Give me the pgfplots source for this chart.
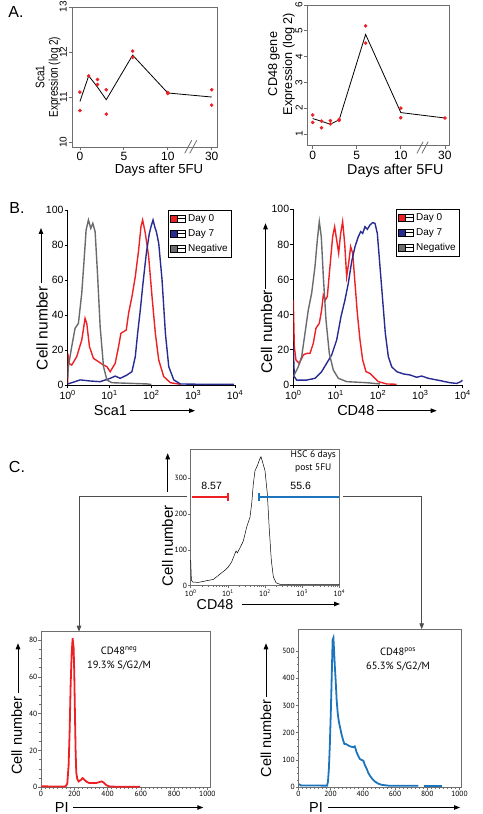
\documentclass[border=0pt]{standalone}
\usepackage{pgfplots}
\pgfplotsset{compat=1.18}
\usepackage{fontspec}
\setmainfont{Liberation Sans}
\newfontfamily\ptsans{PT Sans}
\usetikzlibrary{arrows.meta}
\usepackage{graphicx}

\definecolor{dred}{RGB}{237,32,36}
\definecolor{dblue}{RGB}{40,44,146}
\definecolor{dgray}{RGB}{105,107,110}
\definecolor{cblue}{RGB}{28,117,188}
\definecolor{frame}{RGB}{110,110,110}

\tikzset{arr/.style={-{Triangle[length=6pt,width=4.5pt]}, line width=0.9pt}}
\pgfplotsset{
 panelA/.style={scale only axis, anchor=south west, clip=false, tick align=outside, tick pos=left,
   major tick length=3.5pt, axis line style={draw=frame, line width=0.8pt},
   tick style={draw=frame, line width=0.7pt},
   xticklabel style={font=\fontsize{12}{12}\selectfont, inner sep=1.5pt},
   yticklabel style={font=\fontsize{10}{10}\selectfont, rotate=90, anchor=south, inner sep=1.5pt}},
 panelB/.style={scale only axis, anchor=south west, axis lines*=left, tick align=outside,
   major tick length=3pt, axis line style={line width=0.9pt}, tick style={black, line width=0.8pt},
   ticklabel style={font=\fontsize{10.5}{11}\selectfont, inner sep=1pt},
   xticklabel style={yshift=-1.5pt},
   xmin=0, xmax=4, ymin=0, ymax=100, xtick={0,1,2,3,4},
   xticklabels={10\textsuperscript{0},10\textsuperscript{1},10\textsuperscript{2},10\textsuperscript{3},10\textsuperscript{4}},
   ytick={0,20,40,60,80,100}, yticklabels={0,20,40,60,80,100},
   legend cell align=left,
   legend style={draw=black, line width=0.7pt, font=\fontsize{10}{12}\selectfont, inner sep=2pt, row sep=2.5pt, anchor=north east},
   legend image code/.code={
     \draw[#1, fill, draw=black, line width=0.5pt] (0pt,-3.5pt) rectangle (7pt,3.5pt);
     \draw[black, fill=white, line width=0.9pt] (7pt,-3.5pt) rectangle (15pt,3.5pt);
     \draw[black, line width=0.9pt] (7pt,0pt) -- (15pt,0pt);}},
 panelC/.style={scale only axis, anchor=south west, tick align=outside, tick pos=left,
   major tick length=2.5pt, minor tick length=1.5pt, axis line style={draw=frame, line width=0.6pt},
   tick style={draw=frame, line width=0.5pt},
   ticklabel style={font=\ptsans\fontsize{7.5}{8}\selectfont, inner sep=1pt}},
}

\begin{document}
\begin{tikzpicture}
\useasboundingbox (0,0) rectangle (482pt,814pt);

% ================= A left
\begin{axis}[panelA, at={(72pt,667pt)}, width=145pt, height=140pt,
  xmin=-0.9, xmax=15.6, ymin=9.89, ymax=13.0,
  xtick={0,5,10,15}, xticklabels={0,5,10,30},
  ytick={10,11,12,13}, yticklabels={10,11,12,13}]
\addplot[black, line width=0.8pt] coordinates {(0,10.9)(1,11.47)(2,11.22)(3,10.94)(6,11.93)(10,11.09)(15,11.0)};
\addplot[only marks, mark=*, mark size=1.6pt, dred] coordinates {(0,11.11)(0,10.70)(1,11.47)(2,11.39)(2,11.28)(3,11.16)(3,10.62)(6,12.02)(6,11.88)(10,11.1)(10,11.08)(15,11.16)(15,10.82)};
\draw[frame, line width=0.8pt] (axis cs:11.93,9.75) -- (axis cs:12.73,10.04);
\draw[frame, line width=0.8pt] (axis cs:12.5,9.75) -- (axis cs:13.3,10.04);
\end{axis}

% ================= A right
\begin{axis}[panelA, at={(307.7pt,668.3pt)}, width=141.6pt, height=140.7pt,
  xmin=-0.57, xmax=15.5, ymin=0.547, ymax=6.0,
  xtick={0,5,10,15}, xticklabels={0,5,10,30},
  ytick={1,2,3,4,5,6}, yticklabels={1,2,3,4,5,6}]
\addplot[black, line width=0.8pt] coordinates {(0,1.6)(1,1.49)(2,1.38)(3,1.55)(6,4.86)(10,1.83)(15,1.62)};
\addplot[only marks, mark=*, mark size=1.6pt, dred] coordinates {(0,1.74)(0,1.45)(1,1.50)(1,1.24)(2,1.52)(2,1.39)(3,1.57)(3,1.53)(6,5.19)(6,4.52)(10,2.0)(10,1.63)(15,1.62)};
\draw[frame, line width=0.8pt] (axis cs:11.82,0.25) -- (axis cs:12.53,0.70);
\draw[frame, line width=0.8pt] (axis cs:12.39,0.25) -- (axis cs:13.1,0.70);
\end{axis}

\node[font=\fontsize{16}{18}\selectfont] at (16pt,802pt) {A.};
\node[rotate=90] at (48.5pt,737pt) {\scalebox{0.8}[1]{\fontsize{12.5}{13.5}\selectfont\begin{tabular}{@{}c@{}}Sca1\\Expression (log 2)\end{tabular}}};
\node[rotate=90, align=center, font=\fontsize{12.7}{15}\selectfont] at (281.5pt,750pt) {CD48 gene\\Expression (log 2)};
\node[font=\fontsize{13.1}{15}\selectfont] at (159pt,644pt) {Days after 5FU};
\node[font=\fontsize{14.3}{16}\selectfont] at (395.3pt,643.3pt) {Days after 5FU};

% ================= B left
\begin{axis}[panelB, at={(67.7pt,429pt)}, width=167.3pt, height=175pt,
  legend style={at={(0.982,1.0)}}]
\addplot[dred, line width=1.4pt] coordinates {(0,0.5)(0.005,18.1)(0.024,12.4)(0.096,11.4)(0.216,16.2)(0.336,25.7)(0.416,38.1)(0.456,35.2)(0.52,21.9)(0.616,15.2)(0.736,13.3)(0.856,11.4)(0.936,10.5)(1.016,7.6)(1.136,12.4)(1.216,21.9)(1.272,29.5)(1.336,30.5)(1.4,31.4)(1.456,41)(1.536,50.5)(1.616,61.9)(1.696,77.1)(1.752,90.5)(1.792,94.3)(1.856,86.7)(1.936,73.3)(2.016,50.5)(2.096,29.5)(2.176,14.3)(2.296,4.8)(2.456,1.3)(2.696,0.4)};
\addlegendentry{Day 0}
\addplot[dblue, line width=1.4pt] coordinates {(0,0.6)(0.096,1.3)(0.296,2.9)(0.536,2.3)(0.776,1.9)(1.016,3.8)(1.136,5.1)(1.256,3.8)(1.416,5.7)(1.536,7.6)(1.616,16.2)(1.672,29.5)(1.736,42.9)(1.8,58.1)(1.88,75.2)(1.952,86.7)(1.992,90.5)(2.04,94.3)(2.08,90.5)(2.12,87.6)(2.176,81)(2.256,60)(2.336,29.5)(2.416,10.5)(2.536,2.9)(2.696,0.6)(3.176,0.4)(3.976,0.4)};
\addlegendentry{Day 7}
\addplot[dgray, line width=1.4pt] coordinates {(0,4)(0.016,10.5)(0.096,21.9)(0.176,32.4)(0.256,35.2)(0.336,52.4)(0.392,71.4)(0.44,88.6)(0.496,94.3)(0.552,89.5)(0.6,92.4)(0.656,87.6)(0.712,63.8)(0.776,33.3)(0.856,10.5)(0.936,2.9)(1.056,1.3)(1.416,1.0)(1.896,0.6)(2.0,0.3)};
\addlegendentry{Negative}
\end{axis}

% ================= B right
\begin{axis}[panelB, at={(293.3pt,429pt)}, width=169.4pt, height=175.7pt,
  legend style={at={(0.984,1.0)}}]
\addplot[dred, line width=1.4pt] coordinates {(0,48.4)(0.024,21.8)(0.063,14.2)(0.142,12.3)(0.236,17.1)(0.315,18)(0.394,18)(0.472,23.7)(0.535,32.3)(0.614,35.1)(0.669,42.7)(0.709,51.2)(0.756,48.4)(0.803,50.3)(0.866,67.4)(0.929,84.4)(0.976,90.1)(1.024,82.5)(1.071,75)(1.118,86.3)(1.165,93)(1.213,80.6)(1.26,61.7)(1.307,69.3)(1.354,78.7)(1.402,75)(1.457,57.9)(1.512,40.8)(1.575,25.6)(1.638,14.2)(1.717,7.6)(1.811,6.6)(1.89,4.7)(2.008,1.9)(2.205,0.6)(2.441,0.4)};
\addlegendentry{Day 0}
\addplot[dblue, line width=1.4pt] coordinates {(0,21.8)(0.024,4.7)(0.079,2.8)(0.315,2.8)(0.512,3.8)(0.669,7.6)(0.787,12.3)(0.906,17.1)(1.024,25.6)(1.126,38.9)(1.22,48.4)(1.299,57.9)(1.378,70.2)(1.457,78.7)(1.535,84.4)(1.591,87.3)(1.638,86.3)(1.693,90.1)(1.748,88.6)(1.811,91.1)(1.874,92.4)(1.929,92)(1.984,86.3)(2.047,67.4)(2.11,48.4)(2.173,29.4)(2.244,16.1)(2.323,10.4)(2.441,7.6)(2.598,6.3)(2.756,5.7)(2.913,4.4)(3.031,5.1)(3.189,3.8)(3.465,2.5)(3.701,1.3)(3.858,0.9)(3.953,1.9)(4.0,2.8)};
\addlegendentry{Day 7}
\addplot[dgray, line width=1.4pt] coordinates {(0,4.7)(0.118,10.4)(0.197,16.1)(0.276,29.4)(0.354,42.7)(0.433,52.2)(0.512,67.4)(0.567,82.5)(0.614,93)(0.661,84.4)(0.709,61.7)(0.772,37)(0.85,18)(0.945,8.5)(1.063,3.8)(1.26,1.9)(1.732,1.3)(2.047,0.6)};
\addlegendentry{Negative}
\end{axis}

\node[font=\fontsize{16}{18}\selectfont] at (17pt,606pt) {B.};
\node[rotate=90, font=\fontsize{15.5}{16}\selectfont] at (42pt,485.7pt) {Cell number};
\draw[arr] (41pt,531pt) -- (41pt,586pt);
\node[rotate=90, font=\fontsize{15.5}{16}\selectfont] at (266.7pt,482.3pt) {Cell number};
\draw[arr] (265.5pt,525pt) -- (265.5pt,590.7pt);
\node[font=\fontsize{14.5}{16}\selectfont] at (110.5pt,403pt) {Sca1};
\draw[arr] (130pt,403.3pt) -- (195pt,403.3pt);
\node[font=\fontsize{14.5}{16}\selectfont] at (355.8pt,403pt) {CD48};
\draw[arr] (377pt,403.3pt) -- (436.7pt,403.3pt);

% ================= C top
\begin{axis}[panelC, at={(190.7pt,228.3pt)}, width=148.6pt, height=136.4pt, clip=false,
  xmin=0, xmax=4, ymin=0, ymax=380,
  xtick={0,1,2,3,4},
  xticklabels={10\textsuperscript{0},10\textsuperscript{1},10\textsuperscript{2},10\textsuperscript{3},10\textsuperscript{4}},
  minor xtick={0.301,0.477,0.602,0.699,0.778,0.845,0.903,0.954,1.301,1.477,1.602,1.699,1.778,1.845,1.903,1.954,2.301,2.477,2.602,2.699,2.778,2.845,2.903,2.954,3.301,3.477,3.602,3.699,3.778,3.845,3.903,3.954},
  ytick={0,100,200,300}, yticklabels={0,100,200,300}]
\addplot[black, line width=0.5pt] coordinates {(0,71)(0.018,15.7)(0.054,10.2)(0.206,9.2)(0.43,13.9)(0.61,17.5)(0.7,24.9)(0.789,32.3)(0.924,43.4)(1.013,52.6)(1.103,66.5)(1.175,85)(1.22,97)(1.256,91.4)(1.327,105.3)(1.417,124.7)(1.507,163.4)(1.596,191.1)(1.641,228)(1.686,283.5)(1.731,320.4)(1.794,334.3)(1.848,350)(1.892,359.2)(1.937,343.5)(2.0,320.4)(2.063,255.8)(2.117,154.2)(2.17,71.1)(2.224,24.9)(2.296,8.3)(2.404,3.7)(2.942,2.8)(4.0,2.8)};
\addplot[dred, line width=2.2pt] coordinates {(0.04,248)(1.0,248)};
\addplot[dred, line width=2.2pt] coordinates {(1.0,237)(1.0,259)};
\addplot[cblue, line width=2.2pt] coordinates {(1.83,248)(4.0,248)};
\addplot[cblue, line width=2.2pt] coordinates {(1.83,237)(1.83,259)};
\node[font=\fontsize{10.5}{12}\selectfont] at (axis cs:0.565,277) {8.57};
\node[font=\fontsize{10.5}{12}\selectfont] at (axis cs:2.96,277) {55.6};
\end{axis}

\node[font=\fontsize{16}{18}\selectfont] at (17pt,347.3pt) {C.};
\node[align=center, font=\ptsans\fontsize{9.5}{13}\selectfont] at (313.3pt,352pt) {HSC 6 days\\post 5FU};
\node[rotate=90, font=\fontsize{15}{16}\selectfont] at (167.5pt,268.2pt) {Cell number};
\draw[arr] (167.7pt,322.3pt) -- (167.7pt,360.7pt);
\node[font=\fontsize{14.3}{16}\selectfont] at (215pt,209pt) {CD48};
\draw[arr] (241.7pt,210pt) -- (340pt,210pt);
\draw[frame!70!black, line width=0.9pt, -{Triangle[length=6pt,width=4.5pt]}] (186.7pt,317.3pt) -- (79pt,317.3pt) -- (79pt,182.3pt);
\draw[frame!70!black, line width=0.9pt, -{Triangle[length=6pt,width=4.5pt]}] (343.3pt,317.3pt) -- (421.7pt,317.3pt) -- (421.7pt,184.7pt);

% ================= C bottom left
\begin{axis}[panelC, at={(41pt,26.7pt)}, width=169.7pt, height=155.6pt,
  xmin=0, xmax=1020, ymin=0, ymax=84.6,
  xtick={0,200,400,600,800,1000}, xticklabels={0,200,400,600,800,1000}, minor x tick num=7,
  ytick={0,20,40,60,80}, yticklabels={0,20,40,60,80}, minor y tick num=3]
\addplot[dred, line width=1.8pt] coordinates {(0,0.6)(74,0.4)(148,0.5)(158,2)(166,12)(172,30)(178,55)(184,72)(190,81)(196,76)(200,62)(204,40)(208,20)(212,8)(218,4.5)(226,3.2)(240,4)(250,5)(262,4)(274,3)(290,2.3)(330,2.3)(350,2.8)(365,3.2)(378,2.5)(392,1.2)(410,0.5)(450,0.3)(594,0.3)};
\end{axis}

% ================= C bottom right
\begin{axis}[panelC, at={(298.3pt,26.7pt)}, width=163.4pt, height=158pt,
  xmin=0, xmax=1014, ymin=0, ymax=579,
  xtick={0,200,400,600,800,1000}, xticklabels={0,200,400,600,800,1000}, minor x tick num=7,
  ytick={0,100,200,300,400,500}, yticklabels={0,100,200,300,400,500}, minor y tick num=3]
\addplot[cblue, line width=1.8pt] coordinates {(4,12)(15,7)(178,6)(184,20)(190,70)(196,160)(202,280)(208,420)(213,540)(218,548)(222,500)(227,440)(232,391)(238,320)(245,269)(252,240)(259,220)(268,195)(277,175)(286,159)(298,158)(311,153)(322,150)(333,148)(342,147)(350,150)(356,140)(362,128)(372,115)(383,103)(394,100)(404,97)(414,80)(425,67)(435,52)(445,42)(460,30)(476,21)(497,13)(518,9)(559,6)(745,6)};
\addplot[cblue, line width=1.8pt] coordinates {(782,6)(890,6)};
\end{axis}

\node[align=center, font=\ptsans\fontsize{10.5}{13.5}\selectfont] at (119pt,155.5pt) {CD48\textsuperscript{neg}\\19.3\% S/G2/M};
\node[align=center, font=\ptsans\fontsize{10.5}{14.5}\selectfont] at (398pt,154.5pt) {CD48\textsuperscript{pos}\\65.3\% S/G2/M};
\node[rotate=90, font=\fontsize{14.5}{16}\selectfont] at (16.7pt,78.2pt) {Cell number};
\draw[arr] (18pt,120.7pt) -- (18pt,170.7pt);
\node[rotate=90, font=\fontsize{14.5}{16}\selectfont] at (266pt,75.7pt) {Cell number};
\draw[arr] (266pt,117.3pt) -- (266pt,170.7pt);
\node[inner sep=0pt, font=\fontsize{14.5}{16}\selectfont] at (61.7pt,6.5pt) {PI};
\draw[arr] (73.3pt,6.5pt) -- (203.3pt,6.5pt);
\node[inner sep=0pt, font=\fontsize{14.5}{16}\selectfont] at (316pt,6.5pt) {PI};
\draw[arr] (328.3pt,6.5pt) -- (460pt,6.5pt);
\end{tikzpicture}
\end{document}
